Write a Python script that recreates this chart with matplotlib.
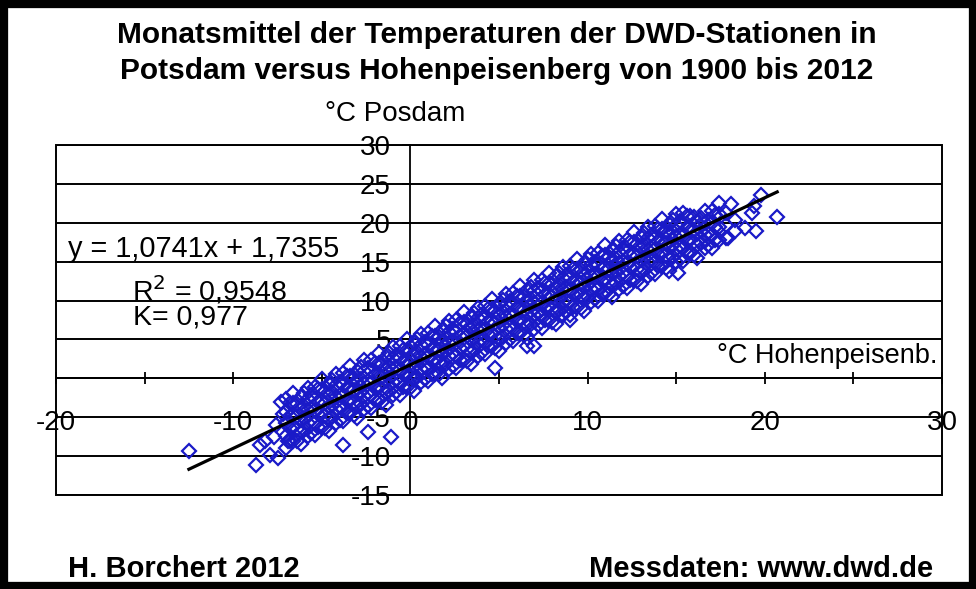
import matplotlib
matplotlib.use('Agg')
import matplotlib.pyplot as plt
from matplotlib.patches import Rectangle
from matplotlib.ticker import MultipleLocator

plt.rcParams['font.family'] = ['Liberation Sans', 'DejaVu Sans']
plt.rcParams['axes.unicode_minus'] = False

# Monatsmittel Hohenpeissenberg (x) und Potsdam (y)
hp_temp = [
    -12.5, -8.7, -8.5, -8.2, -7.9, -7.7, -7.5, -7.3, -7.6, -7.2, -6.9,
    -3.8, -2.4, -1.1, 4.8, 6.6, 7.0, 9.0, 15.1,
    -7.0, -7.0, -7.0, -7.0, -7.0,
    -6.6, -6.6, -6.6, -6.6, -6.6,
    -6.2, -6.2, -6.2, -6.2, -6.2,
    -5.8, -5.8, -5.8, -5.8, -5.8,
    -5.4, -5.4, -5.4, -5.4, -5.4,
    -5.0, -5.0, -5.0, -5.0, -5.0,
    -4.6, -4.6, -4.6, -4.6, -4.6,
    -4.2, -4.2, -4.2, -4.2, -4.2,
    -3.8, -3.8, -3.8, -3.8, -3.8,
    -3.4, -3.4, -3.4, -3.4, -3.4,
    -3.0, -3.0, -3.0, -3.0, -3.0,
    -2.6, -2.6, -2.6, -2.6, -2.6,
    -2.2, -2.2, -2.2, -2.2, -2.2,
    -1.8, -1.8, -1.8, -1.8, -1.8,
    -1.4, -1.4, -1.4, -1.4, -1.4,
    -1.0, -1.0, -1.0, -1.0, -1.0,
    -0.6, -0.6, -0.6, -0.6, -0.6,
    -0.2, -0.2, -0.2, -0.2, -0.2,
    0.2, 0.2, 0.2, 0.2, 0.2,
    0.6, 0.6, 0.6, 0.6, 0.6,
    1.0, 1.0, 1.0, 1.0, 1.0,
    1.4, 1.4, 1.4, 1.4, 1.4,
    1.8, 1.8, 1.8, 1.8, 1.8,
    2.2, 2.2, 2.2, 2.2, 2.2,
    2.6, 2.6, 2.6, 2.6, 2.6,
    3.0, 3.0, 3.0, 3.0, 3.0,
    3.4, 3.4, 3.4, 3.4, 3.4,
    3.8, 3.8, 3.8, 3.8, 3.8,
    4.2, 4.2, 4.2, 4.2, 4.2,
    4.6, 4.6, 4.6, 4.6, 4.6,
    5.0, 5.0, 5.0, 5.0, 5.0,
    5.4, 5.4, 5.4, 5.4, 5.4,
    5.8, 5.8, 5.8, 5.8, 5.8,
    6.2, 6.2, 6.2, 6.2, 6.2,
    6.6, 6.6, 6.6, 6.6, 6.6,
    7.0, 7.0, 7.0, 7.0, 7.0,
    7.4, 7.4, 7.4, 7.4, 7.4,
    7.8, 7.8, 7.8, 7.8, 7.8,
    8.2, 8.2, 8.2, 8.2, 8.2,
    8.6, 8.6, 8.6, 8.6, 8.6,
    9.0, 9.0, 9.0, 9.0, 9.0,
    9.4, 9.4, 9.4, 9.4, 9.4,
    9.8, 9.8, 9.8, 9.8, 9.8,
    10.2, 10.2, 10.2, 10.2, 10.2,
    10.6, 10.6, 10.6, 10.6, 10.6,
    11.0, 11.0, 11.0, 11.0, 11.0,
    11.4, 11.4, 11.4, 11.4, 11.4,
    11.8, 11.8, 11.8, 11.8, 11.8,
    12.2, 12.2, 12.2, 12.2, 12.2,
    12.6, 12.6, 12.6, 12.6, 12.6,
    13.0, 13.0, 13.0, 13.0, 13.0,
    13.4, 13.4, 13.4, 13.4, 13.4,
    13.8, 13.8, 13.8, 13.8, 13.8,
    14.2, 14.2, 14.2, 14.2, 14.2,
    14.6, 14.6, 14.6, 14.6, 14.6,
    15.0, 15.0, 15.0, 15.0, 15.0,
    15.4, 15.4, 15.4, 15.4, 15.4,
    15.8, 15.8, 15.8, 15.8,
    16.2, 16.2, 16.2, 16.2,
    16.6, 16.6, 16.6, 16.6,
    17.0, 17.0, 17.0, 17.0,
    17.4, 17.4, 17.4, 17.4,
    17.8, 17.8, 17.8,
    17.9, 18.1, 18.3, 18.3, 18.9, 19.3, 19.4, 19.5, 19.8, 20.7,
    -6.8, -6.8, -6.8, -6.8,
    -6.4, -6.4, -6.4, -6.4,
    -6.0, -6.0, -6.0, -6.0,
    -5.6, -5.6, -5.6, -5.6,
    -5.2, -5.2, -5.2, -5.2,
    -4.8, -4.8, -4.8, -4.8,
    -4.4, -4.4, -4.4, -4.4,
    -4.0, -4.0, -4.0, -4.0,
    -3.6, -3.6, -3.6, -3.6,
    -3.2, -3.2, -3.2, -3.2,
    -2.8, -2.8, -2.8, -2.8,
    -2.4, -2.4, -2.4, -2.4,
    -2.0, -2.0, -2.0, -2.0,
    -1.6, -1.6, -1.6, -1.6,
    -1.2, -1.2, -1.2, -1.2,
    -0.8, -0.8, -0.8, -0.8,
    -0.4, -0.4, -0.4, -0.4,
    0.0, 0.0, 0.0, 0.0,
    0.4, 0.4, 0.4, 0.4,
    0.8, 0.8, 0.8, 0.8,
    1.2, 1.2, 1.2, 1.2,
    1.6, 1.6, 1.6, 1.6,
    2.0, 2.0, 2.0, 2.0,
    2.4, 2.4, 2.4, 2.4,
    2.8, 2.8, 2.8, 2.8,
    3.2, 3.2, 3.2, 3.2,
    3.6, 3.6, 3.6, 3.6,
    4.0, 4.0, 4.0, 4.0,
    4.4, 4.4, 4.4, 4.4,
    4.8, 4.8, 4.8, 4.8,
    5.2, 5.2, 5.2, 5.2,
    5.6, 5.6, 5.6, 5.6,
    6.0, 6.0, 6.0, 6.0,
    6.4, 6.4, 6.4, 6.4,
    6.8, 6.8, 6.8, 6.8,
    7.2, 7.2, 7.2, 7.2,
    7.6, 7.6, 7.6, 7.6,
    8.0, 8.0, 8.0, 8.0,
    8.4, 8.4, 8.4, 8.4,
    8.8, 8.8, 8.8, 8.8,
    9.2, 9.2, 9.2, 9.2,
    9.6, 9.6, 9.6, 9.6,
    10.0, 10.0, 10.0, 10.0,
    10.4, 10.4, 10.4, 10.4,
    10.8, 10.8, 10.8, 10.8,
    11.2, 11.2, 11.2, 11.2,
    11.6, 11.6, 11.6, 11.6,
    12.0, 12.0, 12.0, 12.0,
    12.4, 12.4, 12.4, 12.4,
    12.8, 12.8, 12.8, 12.8,
    13.2, 13.2, 13.2, 13.2,
    13.6, 13.6, 13.6, 13.6,
    14.0, 14.0, 14.0, 14.0,
    14.4, 14.4, 14.4, 14.4,
    14.8, 14.8, 14.8, 14.8,
    15.2, 15.2, 15.2, 15.2,
    15.6, 15.6, 15.6, 15.6,
    16.0, 16.0, 16.0, 16.0,
    16.4, 16.4, 16.4,
    16.8, 16.8, 16.8,
    17.2, 17.2, 17.2,
]
pd_temp = [
    -9.4, -11.2, -8.6, -8.0, -9.8, -7.6, -10.2, -3.1, -6.0, -4.6, -8.0,
    -8.6, -6.9, -7.6, 1.3, 4.2, 4.2, 7.5, 13.6,
    -9.0, -7.4, -5.8, -4.3, -2.6,
    -8.0, -6.3, -4.7, -3.2, -1.9,
    -8.5, -6.9, -5.4, -3.9, -2.4,
    -7.4, -5.7, -4.1, -2.6, -1.2,
    -7.3, -5.7, -4.1, -2.6, -1.1,
    -6.2, -4.5, -2.9, -1.4, -0.1,
    -6.8, -5.2, -3.7, -2.2, -0.7,
    -5.7, -4.0, -2.4, -0.9, 0.5,
    -5.5, -3.9, -2.3, -0.8, 0.7,
    -4.5, -2.8, -1.2, 0.3, 1.6,
    -5.1, -3.5, -2.0, -0.5, 1.0,
    -4.0, -2.3, -0.7, 0.9, 2.3,
    -3.8, -2.2, -0.6, 0.9, 2.4,
    -2.8, -1.1, 0.5, 2.0, 3.3,
    -3.4, -1.8, -0.3, 1.2, 2.7,
    -2.2, -0.5, 1.1, 2.6, 4.0,
    -2.1, -0.5, 1.1, 2.6, 4.1,
    -1.1, 0.6, 2.2, 3.7, 5.0,
    -1.6, 0.0, 1.5, 3.0, 4.5,
    -0.5, 1.2, 2.8, 4.3, 5.7,
    -0.4, 1.2, 2.8, 4.3, 5.8,
    0.6, 2.3, 3.9, 5.4, 6.7,
    0.1, 1.7, 3.2, 4.7, 6.2,
    1.2, 2.9, 4.5, 6.0, 7.4,
    1.3, 2.9, 4.5, 6.0, 7.5,
    2.4, 4.1, 5.7, 7.2, 8.5,
    1.8, 3.4, 4.9, 6.4, 7.9,
    2.9, 4.6, 6.2, 7.7, 9.1,
    3.1, 4.7, 6.3, 7.8, 9.3,
    4.1, 5.8, 7.4, 8.9, 10.2,
    3.5, 5.1, 6.6, 8.1, 9.6,
    4.6, 6.3, 7.9, 9.4, 10.8,
    4.8, 6.4, 8.0, 9.5, 11.0,
    5.8, 7.5, 9.1, 10.6, 11.9,
    5.2, 6.8, 8.3, 9.8, 11.3,
    6.4, 8.1, 9.7, 11.2, 12.6,
    6.5, 8.1, 9.7, 11.2, 12.7,
    7.5, 9.2, 10.8, 12.3, 13.6,
    7.0, 8.6, 10.1, 11.6, 13.1,
    8.1, 9.8, 11.4, 12.9, 14.3,
    8.2, 9.8, 11.4, 12.9, 14.4,
    9.2, 10.9, 12.5, 14.0, 15.3,
    8.7, 10.3, 11.8, 13.3, 14.8,
    9.8, 11.5, 13.1, 14.6, 16.0,
    9.9, 11.5, 13.1, 14.6, 16.1,
    11.0, 12.7, 14.3, 15.8, 17.1,
    10.4, 12.0, 13.5, 15.0, 16.5,
    11.5, 13.2, 14.8, 16.3, 17.7,
    11.6, 13.2, 14.8, 16.3, 17.8,
    12.7, 14.4, 16.0, 17.5, 18.8,
    12.1, 13.7, 15.2, 16.7, 18.2,
    13.2, 14.9, 16.5, 18.0, 19.4,
    13.4, 15.0, 16.6, 18.1, 19.6,
    14.4, 16.1, 17.7, 19.2, 20.5,
    13.8, 15.4, 16.9, 18.4, 19.9,
    14.9, 16.6, 18.2, 19.7, 21.1,
    15.1, 16.7, 18.3, 19.8, 21.3,
    16.1, 17.8, 19.4, 20.9,
    15.5, 17.1, 18.6, 20.1,
    16.7, 18.4, 20.0, 21.5,
    16.8, 18.4, 20.0, 21.5,
    17.8, 19.5, 21.1, 22.6,
    18.1, 19.7, 21.3,
    18.1, 22.4, 19.0, 20.4, 19.3, 21.3, 22.2, 19.0, 23.6, 20.7,
    -8.0, -6.4, -4.8, -3.2,
    -8.1, -6.5, -4.9, -3.3,
    -6.7, -5.1, -3.5, -1.9,
    -7.0, -5.4, -3.8, -2.2,
    -6.2, -4.6, -3.0, -1.4,
    -6.4, -4.8, -3.2, -1.6,
    -5.0, -3.4, -1.8, -0.2,
    -5.3, -3.7, -2.1, -0.5,
    -4.5, -2.9, -1.3, 0.3,
    -4.7, -3.1, -1.5, 0.1,
    -3.3, -1.7, -0.1, 1.5,
    -3.5, -1.9, -0.3, 1.3,
    -2.8, -1.2, 0.4, 2.0,
    -3.0, -1.4, 0.2, 1.8,
    -1.6, 0.0, 1.6, 3.2,
    -1.8, -0.2, 1.4, 3.0,
    -1.1, 0.5, 2.1, 3.7,
    -1.3, 0.3, 1.9, 3.5,
    0.2, 1.8, 3.4, 5.0,
    -0.1, 1.5, 3.1, 4.7,
    0.6, 2.2, 3.8, 5.4,
    0.5, 2.1, 3.7, 5.3,
    1.9, 3.5, 5.1, 6.7,
    1.6, 3.2, 4.8, 6.4,
    2.3, 3.9, 5.5, 7.1,
    2.2, 3.8, 5.4, 7.0,
    3.6, 5.2, 6.8, 8.4,
    3.3, 4.9, 6.5, 8.1,
    4.1, 5.7, 7.3, 8.9,
    3.9, 5.5, 7.1, 8.7,
    5.3, 6.9, 8.5, 10.1,
    5.1, 6.7, 8.3, 9.9,
    5.8, 7.4, 9.0, 10.6,
    5.6, 7.2, 8.8, 10.4,
    7.0, 8.6, 10.2, 11.8,
    6.8, 8.4, 10.0, 11.6,
    7.5, 9.1, 10.7, 12.3,
    7.3, 8.9, 10.5, 12.1,
    8.8, 10.4, 12.0, 13.6,
    8.5, 10.1, 11.7, 13.3,
    9.2, 10.8, 12.4, 14.0,
    9.1, 10.7, 12.3, 13.9,
    10.5, 12.1, 13.7, 15.3,
    10.2, 11.8, 13.4, 15.0,
    10.9, 12.5, 14.1, 15.7,
    10.8, 12.4, 14.0, 15.6,
    12.2, 13.8, 15.4, 17.0,
    11.9, 13.5, 15.1, 16.7,
    12.7, 14.3, 15.9, 17.5,
    12.5, 14.1, 15.7, 17.3,
    13.9, 15.5, 17.1, 18.7,
    13.6, 15.2, 16.8, 18.4,
    14.4, 16.0, 17.6, 19.2,
    14.2, 15.8, 17.4, 19.0,
    15.6, 17.2, 18.8, 20.4,
    15.4, 17.0, 18.6, 20.2,
    16.1, 17.7, 19.3, 20.9,
    15.9, 17.5, 19.1, 20.7,
    17.4, 19.0, 20.6,
    17.1, 18.7, 20.3,
    17.8, 19.4, 21.0,
]

# Regressionsgerade laut Beschriftung
slope = 1.0741
intercept = 1.7355

x_ticks = [-20, -10, 0, 10, 20, 30]
y_ticks = [-15, -10, -5, 0, 5, 10, 15, 20, 25, 30]

fig = plt.figure(figsize=(9.76, 5.89), dpi=100)
ax = fig.add_axes([56 / 976, 94 / 589, 886 / 976, 350 / 589])

ax.plot(hp_temp, pd_temp, linestyle='none', marker='D', markersize=7.0,
        markerfacecolor='none', markeredgecolor='#1a1ac8', markeredgewidth=1.6, zorder=3)

x_line = [min(hp_temp), max(hp_temp)]
y_line = [slope * v + intercept for v in x_line]
ax.plot(x_line, y_line, color='black', linewidth=2.3, zorder=4)

ax.set_xlim(-20, 30)
ax.set_ylim(-15, 30)
ax.set_xticks(x_ticks)
ax.xaxis.set_minor_locator(MultipleLocator(5))
ax.set_yticks(y_ticks)

for side in ['top', 'right']:
    ax.spines[side].set_visible(False)
ax.spines['bottom'].set_position(('data', 0))
ax.spines['left'].set_position(('data', 0))
ax.spines['bottom'].set_linewidth(1.3)
ax.spines['left'].set_linewidth(1.3)

ax.tick_params(axis='x', which='both', direction='inout', length=9, width=1.3,
               pad=18, labelsize=20)
ax.tick_params(axis='y', which='major', direction='out', length=6, width=1.3,
               pad=8, labelsize=20)

ax.yaxis.grid(True, color='black', linewidth=1.4)
ax.add_patch(Rectangle((0, 0), 1, 1, transform=ax.transAxes, fill=False,
                       edgecolor='black', linewidth=1.4, clip_on=False, zorder=5))

fig.text(497 / 976, 1 - 35 / 589, 'Monatsmittel der Temperaturen der DWD-Stationen in',
         ha='center', va='center', fontsize=21.5, fontweight='bold')
fig.text(497 / 976, 1 - 71 / 589, 'Potsdam versus Hohenpeisenberg von 1900 bis 2012',
         ha='center', va='center', fontsize=21.5, fontweight='bold')
fig.text(395 / 976, 1 - 114 / 589, '°C Posdam', ha='center', va='center', fontsize=20)
fig.text(717 / 976, 1 - 356 / 589, '°C Hohenpeisenb.', ha='left', va='center', fontsize=19.5)

fig.text(68 / 976, 1 - 249 / 589, 'y = 1,0741x + 1,7355', ha='left', va='center', fontsize=20.8)
fig.text(132 / 976, 1 - 290 / 589, 'R$^2$ = 0,9548', ha='left', va='center', fontsize=20.5)
fig.text(133 / 976, 1 - 318 / 589, 'K= 0,977', ha='left', va='center', fontsize=20.5)

fig.text(68 / 976, 1 - 569 / 589, 'H. Borchert 2012', ha='left', va='center',
         fontsize=21, fontweight='bold')
fig.text(933 / 976, 1 - 569 / 589, 'Messdaten: www.dwd.de', ha='right', va='center',
         fontsize=21, fontweight='bold')

fig.patches.append(Rectangle((0, 0), 1, 1, transform=fig.transFigure, fill=False,
                             edgecolor='black', linewidth=11, figure=fig))

fig.savefig('out.png', dpi=100)
